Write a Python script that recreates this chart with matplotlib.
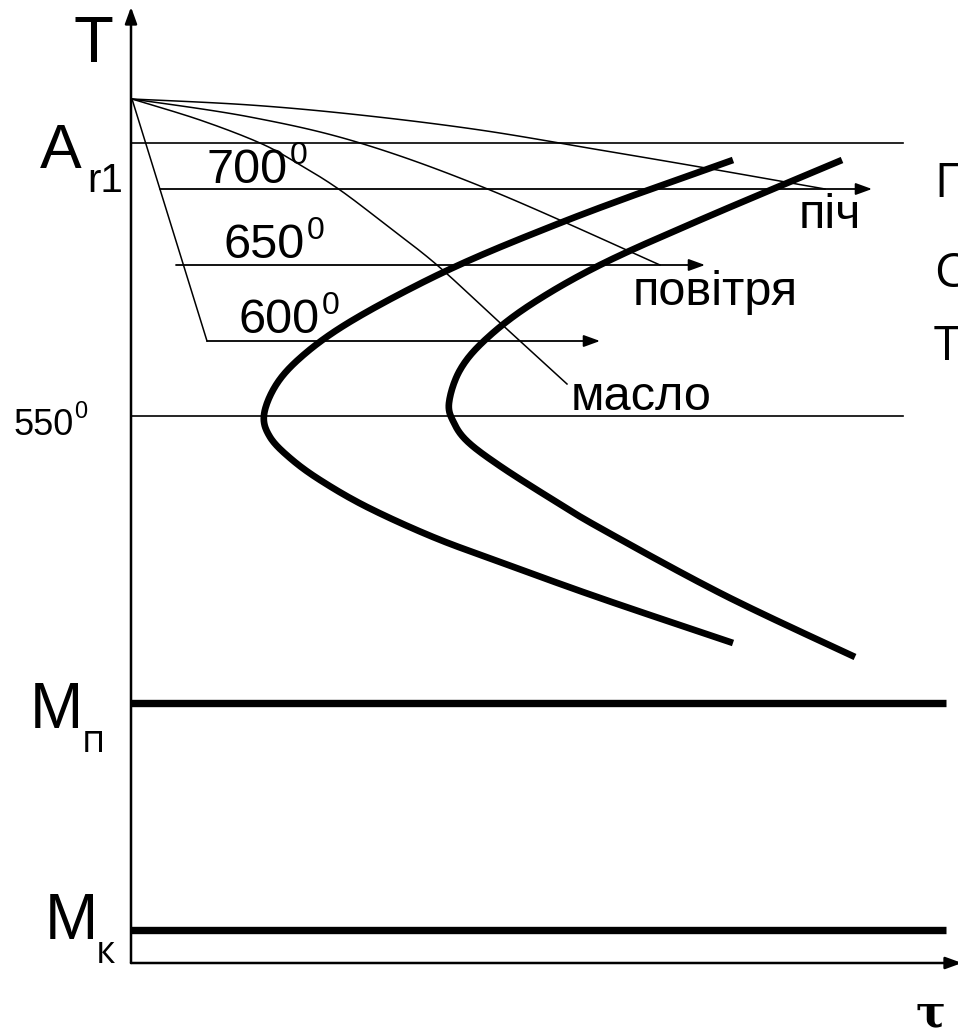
import numpy as np
import matplotlib.pyplot as plt

# coordinates (pixel space, y down)

# cooling curves (thin)
pich_x = [132, 250, 360, 480, 600, 700, 825]
pich_y = [99, 105, 115, 130, 150, 167, 189]
povitria_x = [132, 250, 360, 490, 660]
povitria_y = [99, 117, 143, 190, 265]
maslo_x = [132, 200, 260, 297, 340, 390, 437, 497, 567]
maslo_y = [99, 120, 143, 163, 190, 228, 265, 320, 384]

# C-curves (thick)
c1_x = [733, 640, 560, 470, 400, 340, 300, 276, 264, 270, 290, 320, 367, 433, 500, 600, 733]
c1_y = [160, 193, 223, 260, 294, 328, 358, 385, 415, 437, 458, 480, 507, 537, 562, 598, 643]
c2_x = [842, 700, 600, 530, 485, 460, 449, 454, 468, 500, 550, 600, 724, 855]
c2_y = [160, 220, 265, 305, 340, 370, 403, 423, 442, 466, 498, 528, 595, 657]

# straight path to isotherms and the isothermal arrows
iso_line_x = [132, 207]
iso_line_y = [99, 341]
iso_y = [189, 265, 341]
iso_x0 = [160, 176, 207]
iso_x1 = [872, 705, 600]
iso_labels = ["700", "650", "600"]

# horizontal levels
ar1_y = 143
t550_y = 416
mn_y = 703
mk_y = 930
axis_x = 131
axis_y = 963


def smooth(xs, ys, n=20):
    # catmull-rom through the read points, only for drawing
    p = np.column_stack([xs, ys]).astype(float)
    p = np.vstack([p[0], p, p[-1]])
    out = []
    t = np.linspace(0, 1, n, endpoint=False)[:, None]
    for i in range(1, len(p) - 2):
        p0, p1, p2, p3 = p[i - 1], p[i], p[i + 1], p[i + 2]
        out.append(0.5 * ((2 * p1) + (-p0 + p2) * t + (2 * p0 - 5 * p1 + 4 * p2 - p3) * t ** 2
                          + (-p0 + 3 * p1 - 3 * p2 + p3) * t ** 3))
    out.append(p[-2][None, :])
    out = np.vstack(out)
    return out[:, 0], out[:, 1]


fig = plt.figure(figsize=(9.58, 10.30), dpi=100)
ax = fig.add_axes([0, 0, 1, 1])
ax.set_xlim(0, 958)
ax.set_ylim(1030, 0)
ax.axis('off')

arr = dict(arrowstyle='-|>,head_length=0.55,head_width=0.2', color='k',
           lw=1.3, shrinkA=0, shrinkB=0, mutation_scale=18)

# axes with arrows
ax.annotate('', xy=(axis_x, 7), xytext=(axis_x, axis_y), arrowprops=dict(arr, lw=1.8),
            annotation_clip=False)
ax.annotate('', xy=(962, axis_y), xytext=(axis_x, axis_y), arrowprops=dict(arr, lw=1.8),
            annotation_clip=False)

# thin levels
ax.plot([axis_x, 903], [ar1_y, ar1_y], color='k', lw=1.2)
ax.plot([axis_x, 903], [t550_y, t550_y], color='k', lw=1.2)
# thick martensite levels
ax.plot([axis_x, 946], [mn_y, mn_y], color='k', lw=5.3, solid_capstyle='butt')
ax.plot([axis_x, 946], [mk_y, mk_y], color='k', lw=5.3, solid_capstyle='butt')

# cooling curves
for xs, ys in [(pich_x, pich_y), (povitria_x, povitria_y), (maslo_x, maslo_y)]:
    sx, sy = smooth(xs, ys)
    ax.plot(sx, sy, color='k', lw=1.1)

ax.plot(iso_line_x, iso_line_y, color='k', lw=1.1)
for y, x0, x1 in zip(iso_y, iso_x0, iso_x1):
    ax.annotate('', xy=(x1, y), xytext=(x0, y), arrowprops=arr)

# C-curves
for xs, ys in [(c1_x, c1_y), (c2_x, c2_y)]:
    sx, sy = smooth(xs, ys)
    ax.plot(sx, sy, color='k', lw=4.8, solid_capstyle='butt')

# labels
f1 = ['Liberation Sans', 'DejaVu Sans']
f2 = ['Open Sans', 'DejaVu Sans']
ax.text(74, 62, 'T', fontsize=47, family=f1, va='baseline')
ax.text(40, 168, 'A', fontsize=45, family=f1, va='baseline')
ax.text(87, 192, 'r1', fontsize=29, family=f1, va='baseline')

iso_tx = [207, 224, 239]
iso_ty = [183, 258, 333]
for tx, ty, lab in zip(iso_tx, iso_ty, iso_labels):
    ax.text(tx, ty, lab, fontsize=35, family=f1, va='baseline')
    ax.text(tx + 83, ty - 19, '0', fontsize=23, family=f1, va='baseline')

ax.text(14, 435, '550', fontsize=26, family=f1, va='baseline')
ax.text(74, 418, '0', fontsize=17, family=f1, va='baseline')

ax.text(30, 728, 'М', fontsize=46, family=f1, va='baseline')
ax.text(82, 752, 'п', fontsize=27, family=f2, va='baseline')
ax.text(45, 939, 'М', fontsize=46, family=f1, va='baseline')
ax.text(96, 963, 'к', fontsize=27, family=f2, va='baseline')

ax.text(799, 228, 'піч', fontsize=35, family=f1, va='baseline')
ax.text(633, 305, 'повітря', fontsize=35, family=f1, va='baseline')
ax.text(571, 410, 'масло', fontsize=35, family=f1, va='baseline')

for y, lab in zip([197, 287, 360], ['П', 'С', 'Т']):
    ax.text(934, y, lab, fontsize=34, family=f2, va='baseline')

ax.text(916, 1026, 'τ', fontsize=32, family=['DejaVu Serif'], weight='bold', va='baseline')

fig.savefig('out.png', dpi=100)
